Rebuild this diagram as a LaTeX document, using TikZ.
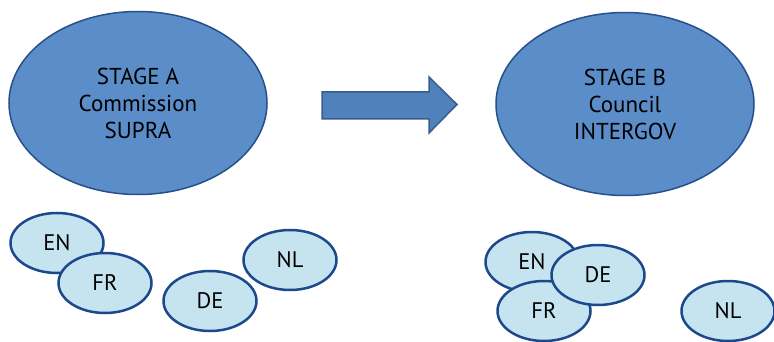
\documentclass[tikz,border=0pt]{standalone}
\usepackage{fontspec}
\setsansfont{PT Sans}
\usetikzlibrary{shapes.geometric}
\definecolor{stagefill}{RGB}{91,141,201}
\definecolor{stageline}{RGB}{38,80,140}
\definecolor{arrowfill}{RGB}{79,129,189}
\definecolor{arrowline}{RGB}{56,93,138}
\definecolor{langfill}{RGB}{198,228,240}
\definecolor{langline}{RGB}{28,72,140}
\begin{document}
\begin{tikzpicture}[x=1pt, y=-1pt,
    stage/.style={ellipse, draw=stageline, fill=stagefill, line width=1.5pt,
      minimum width=258pt, minimum height=183pt, inner sep=0pt, align=center,
      font=\sffamily\fontsize{23}{27}\selectfont},
    lang/.style={ellipse, draw=langline, fill=langfill, line width=2.5pt,
      minimum width=93pt, minimum height=60pt, inner sep=0pt,
      font=\sffamily\fontsize{22.5}{25}\selectfont}]
    \useasboundingbox (0,0) rectangle (774,342);
    \node[stage] (stageA) at (138,103) {STAGE A\\Commission\\SUPRA};
    \node[stage] (stageB) at (625,104) {STAGE B\\Council\\INTERGOV};
    \draw[fill=arrowfill, draw=arrowline, line width=1.5pt, line join=miter]
      (322,92) -- (429,92) -- (429,77) -- (457,104.5) -- (429,133) -- (429,119) -- (322,119) -- cycle;
    \node[lang] (enA) at (57,243) {EN};
    \node[lang] (frA) at (105,283) {FR};
    \node[lang] (deA) at (210,301) {DE};
    \node[lang] (nlA) at (290,260) {NL};
    \node[lang] (enB) at (532,262) {EN};
    \node[lang] (frB) at (544,311) {FR};
    \node[lang] (deB) at (598,275) {DE};
    \node[lang] (nlB) at (728,311) {NL};
\end{tikzpicture}
\end{document}
